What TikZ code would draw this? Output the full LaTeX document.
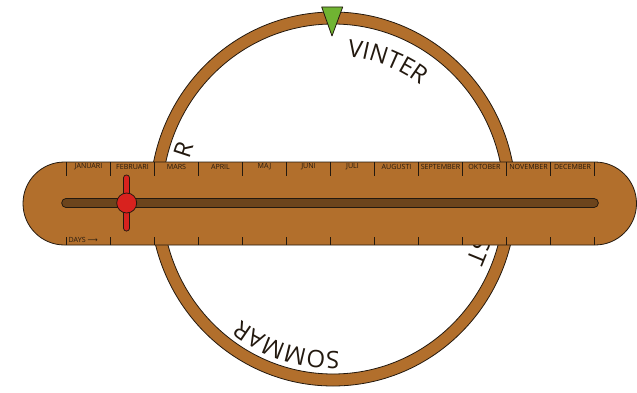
\documentclass[tikz,border=0pt]{standalone}
\usepackage{fontspec}
\setmainfont{Open Sans}
\setsansfont{Open Sans}
\newfontfamily\arrowfont{DejaVu Sans}
\usetikzlibrary{decorations.text,calc}
\definecolor{wood}{RGB}{178,111,44}
\definecolor{slotc}{RGB}{108,68,28}
\definecolor{sliderc}{RGB}{216,34,30}
\definecolor{markc}{RGB}{112,180,50}
\definecolor{inkc}{RGB}{35,25,15}
\newcommand\seasonfont{\fontsize{24}{24}\selectfont}
\newcommand\monthfont{\fontsize{7.1}{7.5}\selectfont}
\begin{document}
\begin{tikzpicture}[x=1pt,y=1pt,
  outline/.style={draw=inkc,line width=0.8pt},
  tickline/.style={draw=inkc,line width=1.1pt},
  monthlabel/.style={font=\monthfont,text=inkc,inner sep=0pt},
  seasontext/.style={decorate,decoration={text along path,text color=inkc}}]
\useasboundingbox (0,0) rectangle (637,392);
\coordinate (C) at (333,193);
% ring
\fill[wood,even odd rule] (C) ellipse [x radius=183,y radius=187] (C) ellipse [x radius=171,y radius=175];
\draw[outline] (C) ellipse [x radius=183,y radius=187];
\draw[outline] (C) ellipse [x radius=171,y radius=175];
% season words
\path[seasontext,decoration={text={|\seasonfont|VINTER}}] ($(C)+(84.4:143.5)$) arc[start angle=84.4,end angle=10,radius=143.5];
\path[seasontext,decoration={text={|\seasonfont|SOMMAR}}] ($(C)+(-87.6:152)$) arc[start angle=-87.6,end angle=-170,radius=152];
\path[seasontext,decoration={text={|\seasonfont|ST}}] ($(C)+(-14.5:147)$) arc[start angle=-14.5,end angle=-50,radius=147];
\node[rotate=71.8,font=\seasonfont,text=inkc,inner sep=0pt] (vr) at ($(C)+(161.8:157)$) {R};
% bar
\draw[outline,fill=wood,rounded corners=41.5] (23,147) rectangle (636.5,230);
\foreach \i in {0,...,12}{
  \draw[tickline] ({66.5+44*\i},230) -- ({66.5+44*\i},216);
  \draw[tickline] ({66.5+44*\i},147) -- ({66.5+44*\i},155);
}
\foreach \m [count=\k from 0] in {JANUARI,FEBRUARI,MARS,APRIL,MAJ,JUNI,JULI,AUGUSTI,SEPTEMBER,OKTOBER,NOVEMBER,DECEMBER}{
  \node[monthlabel] (m\k) at ({88.5+44*\k},225) {\m};
}
\node[monthlabel,anchor=west] (days) at (68.5,152) {DAYS {\arrowfont⟶}};
% slot
\coordinate (s1) at (66,189);
\coordinate (s2) at (594,189);
\draw[inkc,line width=9.6pt,line cap=round] (s1) -- (s2);
\draw[slotc,line width=7.6pt,line cap=round] (s1) -- (s2);
% slider
\coordinate (k) at (126.7,189);
\draw[inkc,line width=7pt,line cap=round] ($(k)+(0,25)$) -- ($(k)+(0,-25)$);
\draw[sliderc,line width=5.2pt,line cap=round] ($(k)+(0,25)$) -- ($(k)+(0,-25)$);
\draw[outline,fill=sliderc] (k) circle (10);
% marker
\draw[outline,fill=markc,line join=round] (321.7,385) -- (342.7,385) -- (332,356) -- cycle;
\end{tikzpicture}
\end{document}
